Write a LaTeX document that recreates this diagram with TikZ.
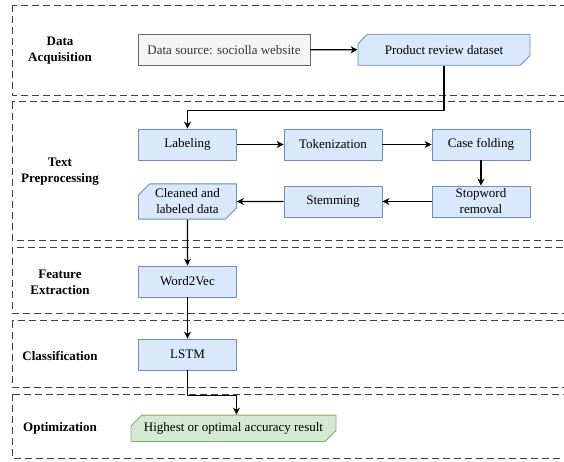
\documentclass[tikz,border=0pt]{standalone}
\usepackage{fontspec}
\setmainfont{Liberation Serif}
\usetikzlibrary{arrows.meta, positioning, shapes.misc}

\definecolor{blueFill}{HTML}{DAE8FC}
\definecolor{blueLine}{HTML}{6C8EBF}
\definecolor{greenFill}{HTML}{D5E8D4}
\definecolor{greenLine}{HTML}{82B366}
\definecolor{grayFill}{HTML}{F5F5F5}
\definecolor{grayLine}{HTML}{666666}
\definecolor{grayText}{HTML}{333333}

\tikzset{
  lane/.style={draw=black!75, line width=1pt, dash pattern=on 7pt off 4pt},
  lanetitle/.style={font=\fontsize{13}{16}\selectfont\bfseries, align=center},
  procbox/.style={draw=blueLine, fill=blueFill, line width=0.9pt, align=center,
    minimum width=98pt, minimum height=31pt, inner sep=2pt,
    font=\fontsize{13}{16}\selectfont},
  srcbox/.style={procbox, draw=grayLine, fill=grayFill, text=grayText,
    minimum width=172pt},
  databox/.style={procbox, chamfered rectangle,
    chamfered rectangle corners={north west,south east},
    chamfered rectangle xsep=8pt},
  resultbox/.style={databox, draw=greenLine, fill=greenFill,
    minimum width=205pt, minimum height=26.5pt},
  flow/.style={-{Stealth[length=7pt,width=7pt]}, line width=1.2pt},
}

\begin{document}
\begin{tikzpicture}[x=1pt,y=-1pt,line join=round]
\useasboundingbox (0,0) rectangle (564,461);
\clip (0,0) rectangle (564,461);

% swimlanes
\draw[lane] (12,5) rectangle (590,95);
\draw[lane] (12,101.5) rectangle (590,240);
\draw[lane] (12,247) rectangle (590,313);
\draw[lane] (12,320.5) rectangle (590,387);
\draw[lane] (12,394) rectangle (590,458);

\node[lanetitle] (acq) at (60,51) {Data\\Acquisition};
\node[lanetitle] (prep) at (60,171.5) {Text\\Preprocessing};
\node[lanetitle] (feat) at (60,282.5) {Feature\\Extraction};
\node[lanetitle] (cls) at (60,356) {Classification};
\node[lanetitle] (opt) at (60,428) {Optimization};

% steps
\node[srcbox] (src) at (224,49.7) {Data source: sociolla website};
\node[databox, minimum width=172pt] (dataset) at (444,49.7) {Product review dataset};

\node[procbox] (label) at (187.5,144.5) {Labeling};
\node[procbox] (token) at (333,144.5) {Tokenization};
\node[procbox] (casefold) at (481,144.5) {Case folding};
\node[procbox] (stopword) at (481,201.5) {Stopword\\removal};
\node[procbox] (stem) at (333,201.5) {Stemming};
\node[databox] (cleaned) at (187.5,201.5) {Cleaned and\\labeled data};

\node[procbox] (w2v) at (187.5,281.5) {Word2Vec};
\node[procbox] (lstm) at (187.5,354.5) {LSTM};
\node[resultbox] (result) at (233.5,428.3) {Highest or optimal accuracy result};

\draw[flow] (src) -- (dataset);
\draw[flow] (dataset.south) -- ++(0,44.5) -| (label.north);
\draw[flow] (label) -- (token);
\draw[flow] (token) -- (casefold);
\draw[flow] (casefold) -- (stopword);
\draw[flow] (stopword) -- (stem);
\draw[flow] (stem) -- (cleaned);
\draw[flow] (cleaned) -- (w2v);
\draw[flow] (w2v) -- (lstm);
\draw[flow] (lstm.south) -- ++(0,25) -| ([xshift=3pt]result.north);

\end{tikzpicture}
\end{document}
